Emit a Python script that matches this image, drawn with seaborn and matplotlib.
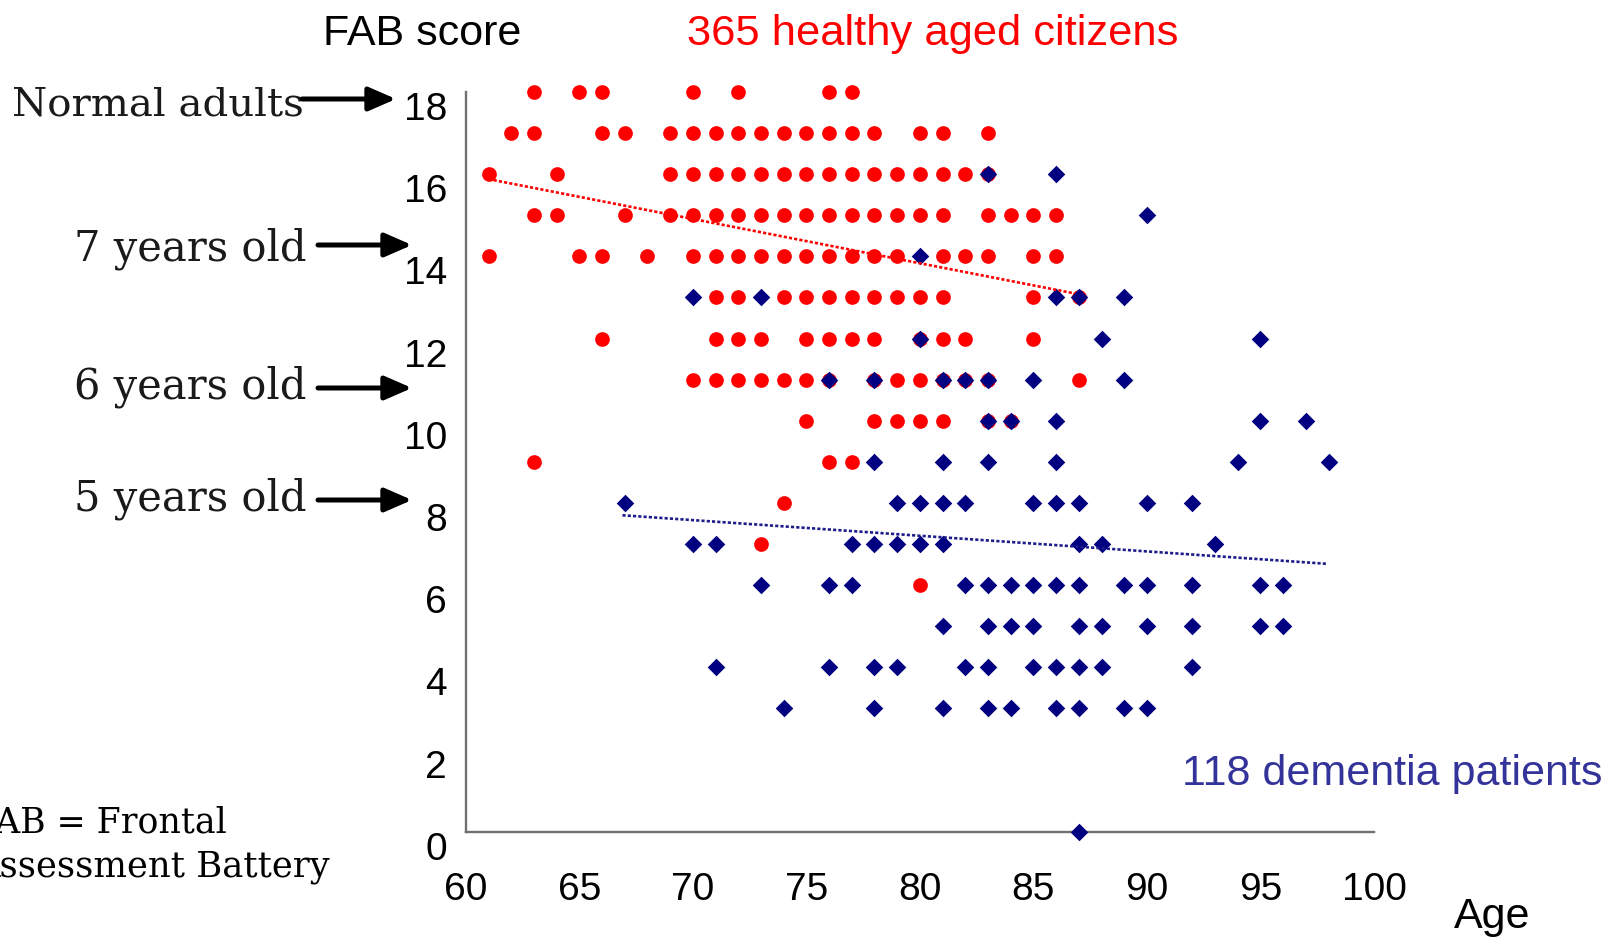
import numpy as np
import pandas as pd
import matplotlib
matplotlib.use("Agg")
import matplotlib.pyplot as plt
import seaborn as sns
from matplotlib import font_manager

# ---------------- data (ages read per FAB score row) ----------------
healthy_18 = [63, 65, 66, 70, 72, 76, 77]
healthy_17 = [62, 63, 66, 67, 69, 70, 71, 72, 73, 74, 75, 76, 77, 78, 80, 81, 83]
healthy_16 = [61, 64, 69, 70, 71, 72, 73, 74, 75, 76, 77, 78, 79, 80, 81, 82, 83]
healthy_15 = [63, 64, 67, 69, 70, 71, 72, 73, 74, 75, 76, 77, 78, 79, 80, 81, 83, 84, 85, 86]
healthy_14 = [61, 65, 66, 68, 70, 71, 72, 73, 74, 75, 76, 77, 78, 79, 81, 82, 83, 85, 86]
healthy_13 = [71, 72, 74, 75, 76, 77, 78, 79, 80, 81, 85, 87]
healthy_12 = [66, 71, 72, 73, 75, 76, 77, 78, 80, 81, 82, 85]
healthy_11 = [70, 71, 72, 73, 74, 75, 76, 78, 79, 80, 81, 82, 83, 87]
healthy_10 = [75, 78, 79, 80, 81, 83, 84]
healthy_9 = [63, 76, 77]
healthy_8 = [74]
healthy_7 = [73]
healthy_6 = [80]

dementia_16 = [83, 86]
dementia_15 = [90]
dementia_14 = [80]
dementia_13 = [70, 73, 86, 87, 89]
dementia_12 = [80, 88, 95]
dementia_11 = [76, 78, 81, 82, 83, 85, 89]
dementia_10 = [83, 84, 86, 95, 97]
dementia_9 = [78, 81, 83, 86, 94, 98]
dementia_8 = [67, 79, 80, 81, 82, 85, 86, 87, 90, 92]
dementia_7 = [70, 71, 77, 78, 79, 80, 81, 87, 88, 93]
dementia_6 = [73, 76, 77, 82, 83, 84, 85, 86, 87, 89, 90, 92, 95, 96]
dementia_5 = [81, 83, 84, 85, 87, 88, 90, 92, 95, 96]
dementia_4 = [71, 76, 78, 79, 82, 83, 85, 86, 87, 88, 92]
dementia_3 = [74, 78, 81, 83, 84, 86, 87, 89, 90]
dementia_0 = [87]

# trend lines (end points)
healthy_trend_age = [61, 86.8]
healthy_trend_score = [15.88, 13.1]
dementia_trend_age = [66.9, 97.9]
dementia_trend_score = [7.70, 6.52]

x_ticks = [60, 65, 70, 75, 80, 85, 90, 95, 100]
y_ticks = [0, 2, 4, 6, 8, 10, 12, 14, 16, 18]

title_left = "FAB score"
title_healthy = "365 healthy aged citizens"
title_dementia = "118 dementia patients"
x_label = "Age"
level_labels = ["Normal adults", "7 years old", "6 years old", "5 years old"]
footnote_lines = ["FAB = Frontal", "Assessment Battery"]

healthy_rows = {18: healthy_18, 17: healthy_17, 16: healthy_16, 15: healthy_15,
                14: healthy_14, 13: healthy_13, 12: healthy_12, 11: healthy_11,
                10: healthy_10, 9: healthy_9, 8: healthy_8, 7: healthy_7, 6: healthy_6}
dementia_rows = {16: dementia_16, 15: dementia_15, 14: dementia_14, 13: dementia_13,
                 12: dementia_12, 11: dementia_11, 10: dementia_10, 9: dementia_9,
                 8: dementia_8, 7: dementia_7, 6: dementia_6, 5: dementia_5,
                 4: dementia_4, 3: dementia_3, 0: dementia_0}


def to_frame(rows):
    recs = [(a, s) for s, ages in rows.items() for a in ages]
    return pd.DataFrame(recs, columns=["age", "score"])


df_h = to_frame(healthy_rows)
df_d = to_frame(dementia_rows)

# ---------------- style ----------------
sns.set_style("white")
plt.rcParams["font.family"] = ["Liberation Sans", "DejaVu Sans"]

installed = {f.name for f in font_manager.fontManager.ttflist}
if "Liberation Sans Narrow" in installed:
    tick_family, tick_size = "Liberation Sans Narrow", 31
else:
    tick_family, tick_size = "Liberation Sans", 28

W, H = 1616, 938
fig = plt.figure(figsize=(W / 100, H / 100), dpi=100)
ax = fig.add_axes([465.8 / W, 1 - 831.7 / H, 908.2 / W, (831.7 - 92.0) / H])

RED = "#ff0000"
NAVY = "#000080"

sns.scatterplot(data=df_h, x="age", y="score", color=RED, marker="o", s=112,
                linewidth=0, ax=ax, clip_on=False, zorder=3, legend=False)
sns.scatterplot(data=df_d, x="age", y="score", color=NAVY, marker="D", s=80,
                linewidth=0, ax=ax, clip_on=False, zorder=4, legend=False)

sns.lineplot(x=healthy_trend_age, y=healthy_trend_score, color=RED, lw=1.9,
             ax=ax, zorder=5)
ax.lines[-1].set_linestyle((0, (1.2, 0.8)))
sns.lineplot(x=dementia_trend_age, y=dementia_trend_score, color="#1c1c8c", lw=1.9,
             ax=ax, zorder=5)
ax.lines[-1].set_linestyle((0, (1.2, 0.8)))

ax.set_xlim(60, 100)
ax.set_ylim(0, 18)
ax.set_xticks(x_ticks)
ax.set_yticks(y_ticks)
ax.set_xlabel("")
ax.set_ylabel("")
for side in ["top", "right"]:
    ax.spines[side].set_visible(False)
for side in ["left", "bottom"]:
    ax.spines[side].set_color("#707070")
    ax.spines[side].set_linewidth(1.7)
ax.tick_params(axis="both", direction="in", length=7.7, width=1.0, color="#222222",
               labelsize=tick_size, labelcolor="black")
ax.tick_params(axis="x", pad=29)
ax.tick_params(axis="y", pad=13.5)
for lab in ax.get_yticklabels() + ax.get_xticklabels():
    lab.set_fontfamily(tick_family)
for lab in ax.get_yticklabels():
    lab.set_verticalalignment("top")
ax.patch.set_alpha(0)


def fx(x):
    return x / W


def fy(y):
    return 1 - y / H


# titles
fig.text(fx(323), fy(45), title_left, fontsize=31, color="black", va="baseline", ha="left")
fig.text(fx(687), fy(45), title_healthy, fontsize=31.3, color=RED, va="baseline", ha="left")
fig.text(fx(1182), fy(785), title_dementia, fontsize=31, color="#333399", va="baseline", ha="left")
fig.text(fx(1454), fy(928), x_label, fontsize=31, color="black", va="baseline", ha="left")

# level labels with arrows
serif = ["DejaVu Serif"]
label_pos = [(304, 115), (307, 260), (307, 398), (307, 510)]
label_size = [29, 30, 30, 30]
arrow_pos = [(302, 396, 99), (318, 412, 245), (318, 412, 388), (318, 412, 500)]
for txt, (x, y), fs in zip(level_labels, label_pos, label_size):
    fig.text(fx(x), fy(y), txt, fontsize=fs, family=serif, color="#1a1a1a",
             va="baseline", ha="right", zorder=2)
for (x0, x1, y) in arrow_pos:
    fig.add_artist(matplotlib.patches.FancyArrowPatch(
        (fx(x0), fy(y)), (fx(x1), fy(y)), transform=fig.transFigure,
        arrowstyle="-|>,head_length=0.55,head_width=0.24", mutation_scale=30,
        lw=3.6, color="black", shrinkA=0, shrinkB=0, zorder=3))

# footnote (cut off at the left edge like the original)
fig.text(fx(-26), fy(832), footnote_lines[0], fontsize=25, family=serif,
         color="black", va="baseline", ha="left")
fig.text(fx(-26), fy(876), footnote_lines[1], fontsize=25.5, family=serif,
         color="black", va="baseline", ha="left")

fig.savefig("out.png", dpi=100, facecolor="white")
